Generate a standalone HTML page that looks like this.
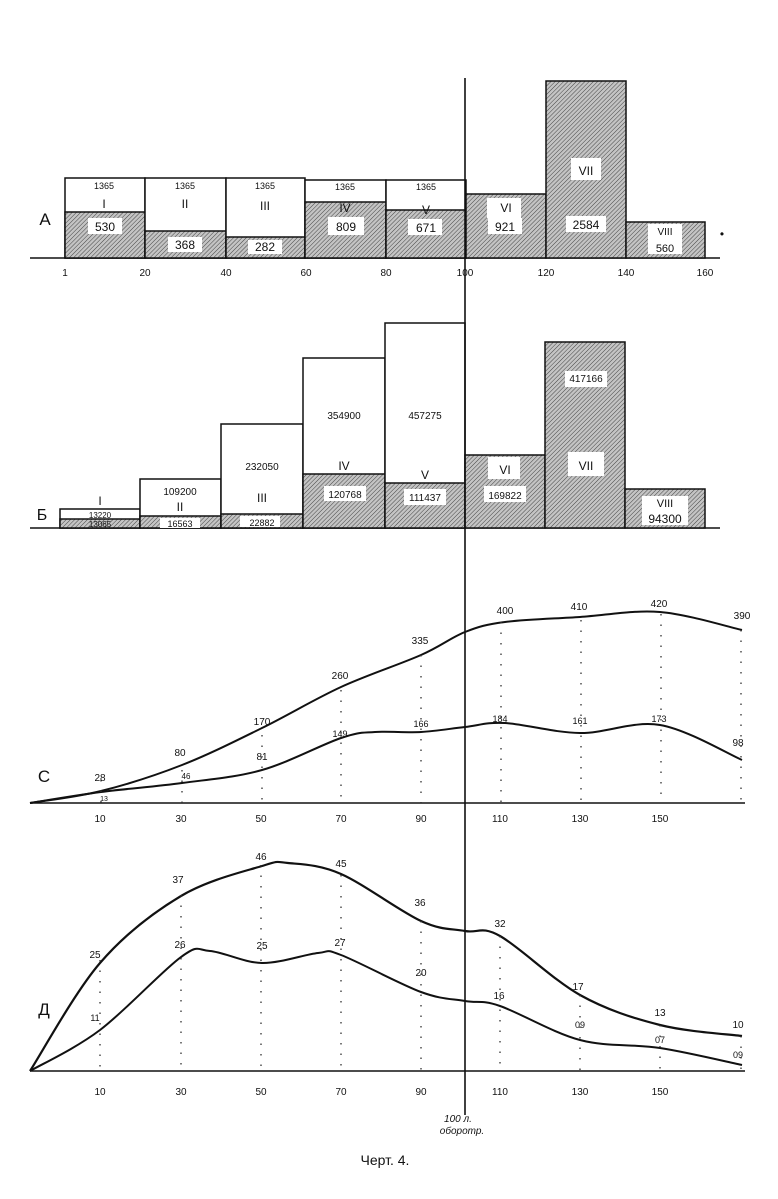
<!DOCTYPE html>
<html><head><meta charset="utf-8"><style>
html,body{margin:0;padding:0;background:#fff;}
svg{display:block;}
text{font-family:"Liberation Sans",sans-serif;fill:#111;}
</style></head><body>
<svg id="s" width="778" height="1199" viewBox="0 0 778 1199" xmlns="http://www.w3.org/2000/svg">
<defs>
<pattern id="h" width="3" height="3" patternUnits="userSpaceOnUse" patternTransform="rotate(45)">
<rect width="3" height="3" fill="#c4c4c4"/>
<line x1="0" y1="0" x2="0" y2="3" stroke="#444" stroke-width="1"/>
</pattern>
</defs>
<g stroke="#111" stroke-width="1.5" fill="none">
<line x1="30" y1="258" x2="720" y2="258"/>
<rect x="65" y="178" width="80" height="80" fill="#fff"/>
<rect x="65" y="212" width="80" height="46" fill="url(#h)"/>
<rect x="145" y="178" width="81" height="80" fill="#fff"/>
<rect x="145" y="231" width="81" height="27" fill="url(#h)"/>
<rect x="226" y="178" width="79" height="80" fill="#fff"/>
<rect x="226" y="237" width="79" height="21" fill="url(#h)"/>
<rect x="305" y="180" width="81" height="78" fill="#fff"/>
<rect x="305" y="202" width="81" height="56" fill="url(#h)"/>
<rect x="386" y="180" width="80" height="78" fill="#fff"/>
<rect x="386" y="210" width="80" height="48" fill="url(#h)"/>
<rect x="466" y="194" width="80" height="64" fill="url(#h)"/>
<rect x="546" y="81" width="80" height="177" fill="url(#h)"/>
<rect x="626" y="222" width="79" height="36" fill="url(#h)"/>
<line x1="30" y1="528" x2="720" y2="528"/>
<rect x="60" y="509" width="80" height="19" fill="#fff"/>
<rect x="60" y="519" width="80" height="9" fill="url(#h)"/>
<rect x="140" y="479" width="81" height="49" fill="#fff"/>
<rect x="140" y="516" width="81" height="12" fill="url(#h)"/>
<rect x="221" y="424" width="82" height="104" fill="#fff"/>
<rect x="221" y="514" width="82" height="14" fill="url(#h)"/>
<rect x="303" y="358" width="82" height="170" fill="#fff"/>
<rect x="303" y="474" width="82" height="54" fill="url(#h)"/>
<rect x="385" y="323" width="80" height="205" fill="#fff"/>
<rect x="385" y="483" width="80" height="45" fill="url(#h)"/>
<rect x="465" y="455" width="80" height="73" fill="url(#h)"/>
<rect x="545" y="342" width="80" height="186" fill="url(#h)"/>
<rect x="625" y="489" width="80" height="39" fill="url(#h)"/>
<line x1="30" y1="803" x2="745" y2="803"/>
<line x1="30" y1="1071" x2="745" y2="1071"/>
<line x1="465" y1="78" x2="465" y2="1115" stroke-width="1.6"/>
<path id="c1" stroke-width="2"/><path id="c2" stroke-width="2"/>
<path id="d1" stroke-width="2.2"/><path id="d2" stroke-width="2"/>
</g>
<g id="dots" stroke="#333" stroke-width="1.3" stroke-dasharray="1.5 9" fill="none"></g>
<g font-size="10" text-anchor="middle">
<g fill="#fff" stroke="none">
<rect x="88" y="218" width="34" height="16"/><rect x="168" y="237" width="34" height="15"/><rect x="248" y="240" width="34" height="14"/>
<rect x="328" y="217" width="36" height="18"/><rect x="408" y="219" width="34" height="16"/><rect x="488" y="218" width="34" height="16"/>
<rect x="566" y="216" width="40" height="16"/><rect x="648" y="224" width="34" height="30"/><rect x="571" y="158" width="30" height="22"/>
<rect x="487" y="198" width="34" height="20"/>
</g>
<text x="104" y="189" font-size="9">1365</text><text x="185" y="189" font-size="9">1365</text><text x="265" y="189" font-size="9">1365</text><text x="345" y="190" font-size="9">1365</text><text x="426" y="190" font-size="9">1365</text>
<text x="104" y="208" font-size="12">I</text><text x="185" y="208" font-size="12">II</text><text x="265" y="210" font-size="12">III</text><text x="345" y="212" font-size="12">IV</text><text x="426" y="214" font-size="12">V</text>
<text x="506" y="212" font-size="12">VI</text><text x="586" y="175" font-size="12">VII</text><text x="665" y="235" font-size="10">VIII</text>
<text x="105" y="231" font-size="12">530</text><text x="185" y="249" font-size="12">368</text><text x="265" y="251" font-size="12">282</text><text x="346" y="231" font-size="12">809</text>
<text x="426" y="232" font-size="12">671</text><text x="505" y="231" font-size="12">921</text><text x="586" y="229" font-size="12">2584</text><text x="665" y="252" font-size="11">560</text>
<text x="45" y="225" font-size="17">A</text>
<text x="65" y="276">1</text><text x="145" y="276">20</text><text x="226" y="276">40</text><text x="306" y="276">60</text><text x="386" y="276">80</text><text x="465" y="276">100</text><text x="546" y="276">120</text><text x="626" y="276">140</text><text x="705" y="276">160</text>
<g fill="#fff" stroke="none">
<rect x="324" y="486" width="42" height="15"/><rect x="404" y="489" width="42" height="16"/><rect x="484" y="486" width="42" height="16"/>
<rect x="568" y="452" width="36" height="24"/><rect x="565" y="371" width="42" height="16"/><rect x="642" y="496" width="46" height="29"/><rect x="488" y="457" width="32" height="22"/>
<rect x="240" y="516" width="40" height="11"/><rect x="160" y="518" width="40" height="10"/>
</g>
<text x="100" y="505" font-size="12">I</text><text x="100" y="518" font-size="8">13220</text><text x="100" y="527" font-size="8">13065</text>
<text x="180" y="495">109200</text><text x="180" y="511" font-size="12">II</text><text x="180" y="527" font-size="9">16563</text>
<text x="262" y="470">232050</text><text x="262" y="502" font-size="12">III</text><text x="262" y="526" font-size="9">22882</text>
<text x="344" y="419">354900</text><text x="344" y="470" font-size="12">IV</text><text x="345" y="498">120768</text>
<text x="425" y="419">457275</text><text x="425" y="479" font-size="12">V</text><text x="425" y="501">111437</text>
<text x="505" y="474" font-size="12">VI</text><text x="505" y="499">169822</text>
<text x="586" y="382">417166</text><text x="586" y="470" font-size="12">VII</text>
<text x="665" y="507" font-size="11">VIII</text><text x="665" y="523" font-size="12">94300</text>
<text x="42" y="520" font-size="16">Б</text>
<text x="44" y="782" font-size="17">C</text>
<text x="100" y="781">28</text><text x="104" y="801" font-size="7">13</text>
<text x="180" y="756">80</text><text x="186" y="779" font-size="8">46</text>
<text x="262" y="725">170</text><text x="262" y="760">81</text>
<text x="340" y="679">260</text><text x="340" y="737" font-size="9">149</text>
<text x="420" y="644">335</text><text x="421" y="727" font-size="9">166</text>
<text x="505" y="614">400</text><text x="500" y="722" font-size="9">184</text>
<text x="579" y="610">410</text><text x="580" y="724" font-size="9">161</text>
<text x="659" y="607">420</text><text x="659" y="722" font-size="9">173</text>
<text x="742" y="619">390</text><text x="738" y="746">98</text>
<g><text x="100" y="822">10</text><text x="181" y="822">30</text><text x="261" y="822">50</text><text x="341" y="822">70</text><text x="421" y="822">90</text><text x="500" y="822">110</text><text x="580" y="822">130</text><text x="660" y="822">150</text></g>
<text x="44" y="1015" font-size="17">Д</text>
<text x="95" y="958">25</text><text x="95" y="1021" font-size="9">11</text>
<text x="178" y="883">37</text><text x="180" y="948">26</text>
<text x="261" y="860">46</text><text x="262" y="949">25</text>
<text x="341" y="867">45</text><text x="340" y="946">27</text>
<text x="420" y="906">36</text><text x="421" y="976">20</text>
<text x="500" y="927">32</text><text x="499" y="999">16</text>
<text x="578" y="990">17</text><text x="580" y="1028" font-size="9">09</text>
<text x="660" y="1016">13</text><text x="660" y="1043" font-size="9">07</text>
<text x="738" y="1028">10</text><text x="738" y="1058" font-size="9">09</text>
<g><text x="100" y="1095">10</text><text x="181" y="1095">30</text><text x="261" y="1095">50</text><text x="341" y="1095">70</text><text x="421" y="1095">90</text><text x="500" y="1095">110</text><text x="580" y="1095">130</text><text x="660" y="1095">150</text></g>
<text x="458" y="1122" font-size="10" font-style="italic">100 л.</text>
<text x="462" y="1134" font-size="10" font-style="italic">оборотр.</text>
<text x="385" y="1165" font-size="14" font-family="Liberation Serif">Черт. 4.</text>
<text x="722" y="238" font-size="12">•</text>
</g>
</svg>
<script>
function cr(p){let d="M"+p[0][0]+","+p[0][1];for(let i=0;i<p.length-1;i++){const a=p[Math.max(0,i-1)],b=p[i],c=p[i+1],e=p[Math.min(p.length-1,i+2)];
d+=" C"+(b[0]+(c[0]-a[0])/6)+","+(b[1]+(c[1]-a[1])/6)+" "+(c[0]-(e[0]-b[0])/6)+","+(c[1]-(e[1]-b[1])/6)+" "+c[0]+","+c[1];}return d;}
document.getElementById("c1").setAttribute("d",cr([[30,803],[101,791],[182,765],[262,728],[341,687],[421,655],[465,632],[505,622],[580,617],[660,612],[742,630]]));
document.getElementById("c2").setAttribute("d",cr([[30,803],[101,792],[182,783],[262,770],[341,738],[375,732],[421,732],[465,727],[505,723],[580,733],[660,725],[742,760]]));
document.getElementById("d1").setAttribute("d",cr([[30,1071],[100,963],[181,896],[262,866],[288,863],[341,874],[421,921],[465,931],[500,936],[580,995],[660,1025],[742,1036]]));
document.getElementById("d2").setAttribute("d",cr([[30,1071],[100,1030],[181,957],[210,951],[262,963],[318,953],[341,955],[421,992],[465,1001],[500,1006],[580,1040],[660,1048],[742,1065]]));
let g=document.getElementById("dots"),h="";
[[101,780,803],[182,770,803],[262,735,803],[341,690,803],[421,655,803],[501,622,803],[581,620,803],[661,614,803],[741,630,803],
 [100,960,1071],[181,895,1071],[261,865,1071],[341,875,1071],[421,921,1071],[500,936,1071],[580,995,1071],[660,1025,1071],[741,1036,1071]].forEach(v=>{h+='<line x1="'+v[0]+'" y1="'+v[1]+'" x2="'+v[0]+'" y2="'+v[2]+'"/>';});
g.innerHTML=h;
</script>
</body></html>
